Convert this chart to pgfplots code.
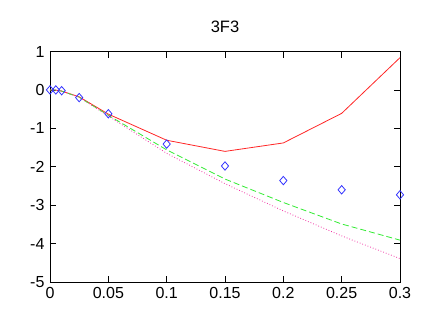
\documentclass[border=0pt]{standalone}
\usepackage{pgfplots}
\pgfplotsset{compat=1.18}
\usepackage{fontspec}
\setmainfont{Liberation Sans}
\begin{document}
\begin{tikzpicture}[x=1pt,y=1pt]
\useasboundingbox (0,0) rectangle (429,317);
\begin{axis}[
  at={(50pt,35pt)}, anchor=south west,
  scale only axis, width=350pt, height=230.5pt,
  xmin=0, xmax=0.3, ymin=-5, ymax=1,
  xtick={0,0.05,...,0.3}, ytick={-5,-4,...,1},
  xticklabels={0,0.05,0.1,0.15,0.2,0.25,0.3},
  /pgf/number format/assume math mode=true,
  tick align=inside, major tick length=6pt,
  tick style={black, line width=0.8pt},
  axis line style={black, line width=0.8pt},
  every tick label/.append style={font=\fontsize{16}{18}\selectfont},
  xticklabel style={yshift=-2pt},
  yticklabel style={xshift=-2pt},
  title={3F3},
  title style={font=\fontsize{16.5}{18}\selectfont, at={(0.5,1)}, anchor=base, yshift=13pt},
  clip=false,
]
\addplot[red!85!white, line width=0.8pt] coordinates {
 (0,0) (0.005,-0.005) (0.01,-0.03) (0.025,-0.18) (0.05,-0.63) (0.1,-1.31) (0.15,-1.60) (0.2,-1.38) (0.25,-0.61) (0.3,0.84)};
\addplot[green!90!black!80!white, dashed, dash pattern=on 6pt off 3pt, line width=0.8pt] coordinates {
 (0,0) (0.005,-0.005) (0.01,-0.03) (0.025,-0.19) (0.05,-0.66) (0.1,-1.56) (0.15,-2.32) (0.2,-2.93) (0.25,-3.49) (0.3,-3.91)};
\addplot[magenta!80!white, dotted, line width=0.8pt] coordinates {
 (0,0) (0.005,-0.005) (0.01,-0.03) (0.025,-0.19) (0.05,-0.68) (0.1,-1.65) (0.15,-2.44) (0.2,-3.15) (0.25,-3.80) (0.3,-4.39)};
\addplot[only marks, mark=diamond, mark size=4.2pt, mark options={blue!80!white, line width=0.8pt, xscale=1.15}] coordinates {
 (0,0) (0.005,0) (0.01,-0.02) (0.025,-0.20) (0.05,-0.62) (0.1,-1.41) (0.15,-1.98) (0.2,-2.36) (0.25,-2.60) (0.3,-2.73)};
\end{axis}
\end{tikzpicture}
\end{document}
